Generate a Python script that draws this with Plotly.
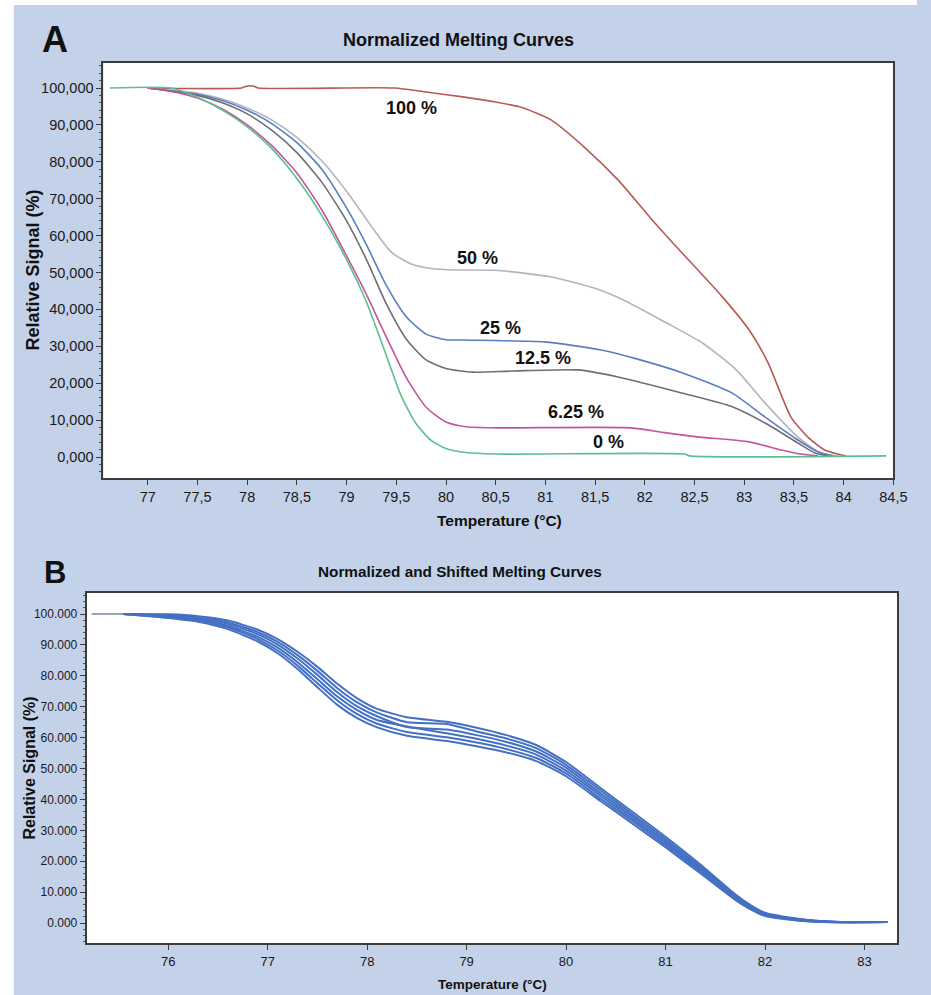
import plotly.graph_objects as go

W, H = 931, 995

# ---------------- Panel A : Normalized Melting Curves ----------------
a_labels = ["100 %", "50 %", "25 %", "12.5 %", "6.25 %", "0 %"]
a_label_x = [79.65, 80.32, 80.55, 80.98, 81.31, 81.63]
a_label_y = [94.6, 53.9, 35.0, 26.8, 12.2, 4.1]

a100_t = [77.02, 77.94, 77.99, 78.07, 78.11, 79.48, 79.80, 80.17, 80.50, 80.74, 80.90, 81.06,
          81.39, 81.73, 82.05, 82.32, 82.78, 83.05, 83.24, 83.47, 83.64, 83.81, 83.94, 84.02]
a100_v = [100.0, 100.0, 100.5, 100.5, 100.0, 100.0, 98.9, 97.6, 96.2, 94.9, 93.3, 91.3,
          84.0, 75.1, 65.0, 56.9, 43.4, 34.4, 25.5, 10.8, 5.4, 1.9, 0.8, 0.3]

a50_t = [77.00, 77.50, 77.75, 78.00, 78.25, 78.50, 78.75, 79.00, 79.25, 79.45, 79.65, 79.85,
         80.10, 80.50, 81.06, 81.49, 81.79, 82.22, 82.58, 82.92, 83.21, 83.54, 83.77, 83.94]
a50_v = [100.0, 98.6, 97.0, 94.6, 91.3, 86.6, 80.3, 72.0, 62.5, 55.5, 52.3, 51.1,
         50.7, 50.6, 48.8, 45.8, 42.5, 36.3, 30.9, 23.6, 14.6, 5.4, 1.1, 0.3]

a25_t = [77.00, 77.50, 77.75, 78.00, 78.25, 78.50, 78.75, 79.00, 79.20, 79.40, 79.60, 79.80,
         80.00, 80.17, 80.99, 81.56, 81.89, 82.38, 82.88, 83.21, 83.54, 83.74, 83.89]
a25_v = [100.0, 98.3, 96.6, 94.0, 90.3, 85.2, 78.0, 67.5, 57.5, 46.5, 38.0, 33.3,
         31.8, 31.7, 31.2, 29.0, 26.8, 22.8, 17.3, 10.8, 4.6, 1.4, 0.3]

a125_t = [77.00, 77.50, 77.75, 78.00, 78.25, 78.50, 78.75, 79.00, 79.20, 79.40, 79.60, 79.80,
          80.00, 80.27, 80.67, 81.33, 81.73, 82.38, 82.88, 83.21, 83.54, 83.71, 83.84]
a125_v = [100.0, 98.0, 96.0, 93.0, 88.5, 82.5, 74.5, 64.0, 53.5, 41.5, 32.0, 26.3,
          24.0, 23.0, 23.3, 23.6, 21.7, 17.3, 13.6, 9.2, 3.8, 1.1, 0.3]

a625_t = [77.00, 77.25, 77.50, 77.75, 78.00, 78.25, 78.50, 78.75, 79.00, 79.20, 79.40, 79.60,
          79.80, 80.00, 80.20, 80.50, 81.86, 82.20, 82.55, 83.05, 83.37, 83.57, 83.74]
a625_v = [100.0, 99.0, 97.3, 94.3, 90.0, 84.3, 77.0, 67.0, 54.5, 44.0, 32.5, 21.5,
          13.5, 9.5, 8.2, 7.9, 7.9, 6.6, 5.4, 4.1, 1.9, 0.8, 0.3]

a0_t = [76.62, 77.23, 77.50, 77.75, 78.00, 78.25, 78.50, 78.75, 79.00, 79.20, 79.40, 79.55,
        79.70, 79.85, 80.00, 80.20, 80.50, 82.40, 82.45, 84.43]
a0_v = [100.0, 100.0, 97.5, 94.0, 89.5, 83.5, 75.5, 65.5, 53.5, 42.0, 27.5, 16.5,
        9.0, 4.5, 2.3, 1.2, 0.8, 0.8, 0.3, 0.3]

a_xtick_vals = [77, 77.5, 78, 78.5, 79, 79.5, 80, 80.5, 81, 81.5, 82, 82.5, 83, 83.5, 84, 84.5]
a_xtick_text = ["77", "77,5", "78", "78,5", "79", "79,5", "80", "80,5", "81", "81,5",
                "82", "82,5", "83", "83,5", "84", "84,5"]
a_ytick_vals = [0, 10, 20, 30, 40, 50, 60, 70, 80, 90, 100]
a_ytick_text = ["0,000", "10,000", "20,000", "30,000", "40,000", "50,000", "60,000",
                "70,000", "80,000", "90,000", "100,000"]

# ---------------- Panel B : Normalized and Shifted Melting Curves ----------------
b_temp = [75.55, 76.0, 76.3, 76.6, 76.9, 77.1, 77.3, 77.5, 77.7, 77.9, 78.1, 78.4, 78.8,
          79.1, 79.4, 79.7, 80.0, 80.35, 80.7, 81.0, 81.35, 81.7, 81.85, 82.0, 82.35,
          82.7, 83.23]
b_s1 = [100, 99.9, 99.3, 97.9, 94.9, 91.9, 87.8, 82.9, 77.4, 72.7, 69.3, 66.6, 65.1,
        63.2, 60.8, 57.6, 52.1, 43.6, 35.2, 27.9, 18.9, 9.3, 5.9, 3.3, 1.3, 0.4, 0.3]
b_s2 = [100, 99.7, 98.9, 97.3, 94.1, 91.0, 86.7, 81.6, 76.0, 71.4, 68.1, 65.0, 64.4,
        62.0, 59.7, 56.6, 51.2, 42.8, 34.4, 27.2, 18.3, 8.9, 5.6, 3.1, 1.2, 0.4, 0.3]
b_s3 = [100, 99.4, 98.6, 96.8, 93.4, 90.1, 85.6, 80.3, 74.7, 70.1, 66.9, 63.4, 62.6,
        60.8, 58.6, 55.5, 50.3, 41.9, 33.7, 26.5, 17.8, 8.6, 5.3, 2.9, 1.1, 0.3, 0.3]
b_s4 = [100, 99.2, 98.2, 96.2, 92.6, 89.1, 84.4, 78.9, 73.3, 68.9, 65.7, 63.6, 61.4,
        59.6, 57.4, 54.5, 49.3, 41.1, 32.9, 25.9, 17.2, 8.2, 5.1, 2.7, 0.9, 0.3, 0.3]
b_s5 = [100, 98.9, 97.9, 95.7, 91.9, 88.2, 83.3, 77.6, 72.0, 67.6, 64.5, 61.8, 60.1,
        58.4, 56.3, 53.4, 48.4, 40.2, 32.2, 25.2, 16.7, 7.9, 4.8, 2.5, 0.8, 0.3, 0.3]
b_s6 = [100, 98.7, 97.5, 95.1, 91.1, 87.3, 82.2, 76.3, 70.6, 66.3, 63.3, 60.6, 58.9,
        57.2, 55.2, 52.4, 47.5, 39.4, 31.4, 24.5, 16.1, 7.5, 4.5, 2.3, 0.7, 0.2, 0.3]
b_start_t = [75.23, 75.55]
b_start_v = [100, 100]

b_xtick_vals = [76, 77, 78, 79, 80, 81, 82, 83]
b_xtick_text = ["76", "77", "78", "79", "80", "81", "82", "83"]
b_ytick_vals = [0, 10, 20, 30, 40, 50, 60, 70, 80, 90, 100]
b_ytick_text = ["0.000", "10.000", "20.000", "30.000", "40.000", "50.000", "60.000",
                "70.000", "80.000", "90.000", "100.000"]

# ---------------- styling ----------------
BG = "#c3d1e9"
SANS = "Liberation Sans, Arial, sans-serif"
TXT = "#1a1a1a"

fig = go.Figure()

a_series = [
    (a100_t, a100_v, "#b85a52"),
    (a50_t, a50_v, "#b4b4bc"),
    (a25_t, a25_v, "#5a7ec2"),
    (a125_t, a125_v, "#6e6e76"),
    (a625_t, a625_v, "#c2559e"),
    (a0_t, a0_v, "#5cbf8e"),
]
for t, v, c in a_series:
    fig.add_trace(go.Scatter(x=t, y=v, mode="lines",
                             line=dict(color=c, width=1.6, shape="spline", smoothing=0.6),
                             xaxis="x", yaxis="y", showlegend=False))

fig.add_trace(go.Scatter(x=b_start_t, y=b_start_v, mode="lines",
                         line=dict(color="#98a2b6", width=2.2),
                         xaxis="x2", yaxis="y2", showlegend=False))
for s in [b_s1, b_s2, b_s3, b_s4, b_s5, b_s6]:
    fig.add_trace(go.Scatter(x=b_temp, y=s, mode="lines",
                             line=dict(color="#4470c4", width=2.0, shape="spline", smoothing=0.6),
                             xaxis="x2", yaxis="y2", showlegend=False))

for txt, x, y in zip(a_labels, a_label_x, a_label_y):
    fig.add_annotation(x=x, y=y, xref="x", yref="y", text="<b>" + txt + "</b>",
                       showarrow=False, font=dict(family=SANS, size=18, color="#111"))


def px(xp):
    return xp / W


def py(yp):
    return 1 - yp / H


def paper_text(x, y, text, size, angle=0):
    fig.add_annotation(x=px(x), y=py(y), xref="paper", yref="paper", text=text,
                       showarrow=False, textangle=angle, xanchor="center", yanchor="middle",
                       font=dict(family=SANS, size=size, color="#111"))


paper_text(56, 40, "<b>A</b>", 36)
paper_text(56, 572, "<b>B</b>", 31)
paper_text(466, 40, "<b>Normalized Melting Curves</b>", 18)
paper_text(467, 571, "<b>Normalized and Shifted Melting Curves</b>", 15.3)
paper_text(507, 520, "<b>Temperature (°C)</b>", 15.5)
paper_text(500, 984, "<b>Temperature (°C)</b>", 13.5)
paper_text(33, 270, "<b>Relative Signal (%)</b>", 18, -90)
paper_text(29, 768, "<b>Relative Signal (%)</b>", 16, -90)

axis_common = dict(showgrid=False, zeroline=False, showline=True, linecolor="#3c3c3c",
                   linewidth=2, mirror=True, ticks="outside", tickcolor="#3c3c3c",
                   ticklen=5, tickwidth=1)

fig.update_layout(
    width=W, height=H,
    margin=dict(l=0, r=0, t=0, b=0),
    paper_bgcolor=BG, plot_bgcolor="white",
    xaxis=dict(domain=[105 / W, 907 / W], range=[76.554, 84.5], anchor="y",
               tickvals=a_xtick_vals, ticktext=a_xtick_text,
               tickfont=dict(family=SANS, size=14.5, color=TXT), **axis_common),
    yaxis=dict(domain=[py(478), py(63)], range=[-5.69, 106.78], anchor="x",
               tickvals=a_ytick_vals, ticktext=a_ytick_text,
               tickfont=dict(family=SANS, size=14.5, color=TXT),
               minor=dict(dtick=2, ticklen=2, ticks="outside", tickcolor="#555"),
               **axis_common),
    xaxis2=dict(domain=[88 / W, 911 / W], range=[75.18, 83.33], anchor="y2",
                tickvals=b_xtick_vals, ticktext=b_xtick_text,
                tickfont=dict(family=SANS, size=13, color=TXT), **axis_common),
    yaxis2=dict(domain=[py(943), py(593)], range=[-6.47, 106.8], anchor="x2",
                tickvals=b_ytick_vals, ticktext=b_ytick_text,
                tickfont=dict(family=SANS, size=12, color=TXT),
                minor=dict(dtick=2, ticklen=2, ticks="outside", tickcolor="#555"),
                **axis_common),
    shapes=[
        dict(type="rect", xref="paper", yref="paper", x0=0, x1=14 / W, y0=0, y1=1,
             fillcolor="white", line=dict(width=0), layer="below"),
        dict(type="rect", xref="paper", yref="paper", x0=0, x1=1, y0=py(5), y1=1,
             fillcolor="white", line=dict(width=0), layer="below"),
    ],
)

fig.write_html("out.html",
               config={"displayModeBar": False},
               post_script="document.body.style.margin='0px';"
                           "document.body.style.overflow='hidden';")
